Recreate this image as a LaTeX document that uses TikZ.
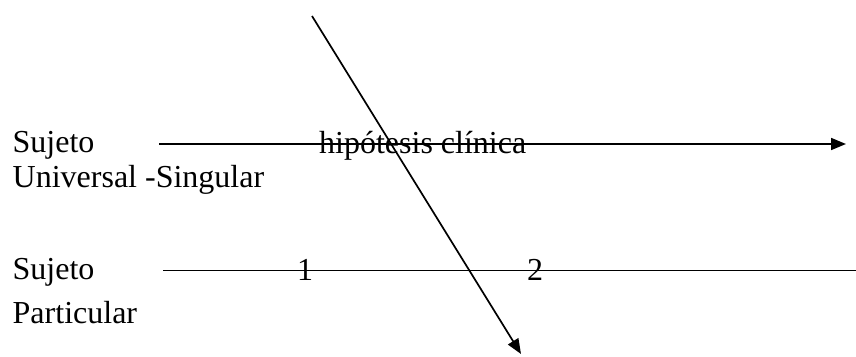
\documentclass[tikz,border=0pt]{standalone}
\usepackage{fontspec}
\setmainfont{Liberation Serif}
\usetikzlibrary{arrows.meta}
\begin{document}
\begin{tikzpicture}[x=1pt,y=-1pt,
  lbl/.style={anchor=base west,inner sep=0pt,font=\fontsize{32}{38}\selectfont},
  conn/.style={line width=1.7pt},
  arr/.style={conn,-{Triangle[length=15pt,width=12pt]}}]
\useasboundingbox (0,0) rectangle (856,356);
% labels
\node[lbl] (s1) at (12.5,152) {Sujeto};
\node[lbl] (u1) at (12.5,187) {Universal -Singular};
\node[lbl] (s2) at (12.5,279.5) {Sujeto};
\node[lbl] (p2) at (12.5,323) {Particular};
\node[lbl] (h) at (319,153) {hipótesis clínica};
\node[lbl] (n1) at (297,280) {1};
\node[lbl] (n2) at (527,280) {2};
% connector end points
\coordinate (a1) at (159,144);
\coordinate (a2) at (846,144);
\coordinate (b1) at (163,270.5);
\coordinate (b2) at (856,270.5);
\coordinate (d1) at (312,16);
\coordinate (d2) at (521,354);
% connectors
\draw[arr] (a1) -- (a2);
\draw[conn] (b1) -- (b2);
\draw[arr] (d1) -- (d2);
\end{tikzpicture}
\end{document}
